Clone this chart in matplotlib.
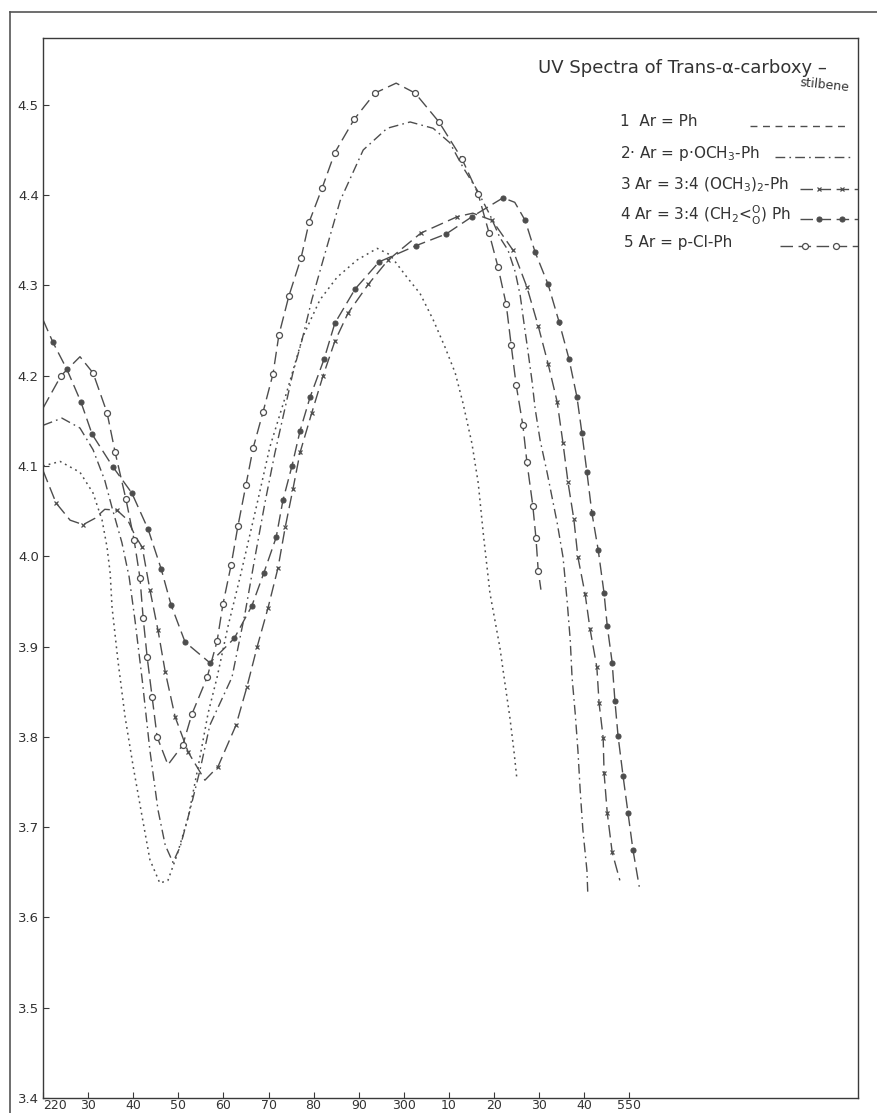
import matplotlib
matplotlib.use("Agg")
import matplotlib.pyplot as plt
from matplotlib.lines import Line2D

# ---------------- data ----------------
wl_1 = [220.0, 223.8, 228.2, 231.1, 233.1, 234.2, 234.9, 235.3, 236.6, 238.2, 240.0, 242.0,
        243.7, 245.9, 247.7, 249.7, 252.2, 254.4, 256.6, 258.6, 261.0, 263.7, 267.5, 270.3,
        273.7, 277.6, 281.4, 285.2, 289.6, 294.1, 296.9, 300.7, 303.6, 306.5, 309.1, 311.4,
        313.1, 315.1, 316.5, 317.6, 319.1, 321.3, 322.4, 323.5, 324.4, 325.1]
loge_1 = [4.100, 4.105, 4.093, 4.070, 4.040, 4.010, 3.981, 3.944, 3.885, 3.822, 3.767, 3.711,
          3.664, 3.638, 3.641, 3.669, 3.711, 3.767, 3.826, 3.866, 3.922, 3.977, 4.059, 4.121,
          4.176, 4.243, 4.284, 4.309, 4.328, 4.341, 4.334, 4.309, 4.291, 4.262, 4.232, 4.203,
          4.170, 4.125, 4.081, 4.026, 3.959, 3.899, 3.860, 3.822, 3.785, 3.752]

wl_2 = [220.0, 224.2, 228.2, 231.1, 233.7, 235.3, 237.5, 239.1, 240.4, 242.0, 243.7, 245.5,
        247.1, 248.8, 250.4, 252.6, 254.8, 257.0, 261.9, 264.8, 267.0, 269.2, 271.4, 273.7,
        275.4, 277.4, 279.6, 282.1, 285.9, 291.0, 296.3, 301.4, 306.5, 310.2, 313.1, 316.2,
        319.1, 321.3, 323.1, 324.7, 325.8, 326.7, 327.5, 328.4, 329.1, 330.2, 331.8, 334.0,
        335.3, 336.2, 336.9, 337.3, 338.0, 338.6, 339.1, 339.7, 340.6, 340.8]
loge_2 = [4.145, 4.153, 4.142, 4.118, 4.084, 4.054, 4.015, 3.977, 3.929, 3.863, 3.785, 3.719,
          3.680, 3.661, 3.678, 3.719, 3.763, 3.813, 3.866, 3.937, 3.999, 4.059, 4.114, 4.165,
          4.203, 4.239, 4.284, 4.328, 4.394, 4.450, 4.474, 4.481, 4.474, 4.458, 4.431, 4.406,
          4.378, 4.353, 4.339, 4.315, 4.289, 4.256, 4.228, 4.195, 4.164, 4.129, 4.092, 4.037,
          3.999, 3.951, 3.907, 3.866, 3.826, 3.785, 3.741, 3.697, 3.652, 3.625]

wl_3 = [220.0, 222.9, 226.0, 228.9, 231.5, 233.7, 236.4, 238.8, 240.4, 242.0, 243.7, 245.5,
        247.1, 249.3, 252.2, 255.9, 258.8, 262.8, 265.2, 267.5, 269.9, 272.1, 273.7, 275.4,
        277.0, 279.6, 282.1, 284.7, 287.6, 292.1, 296.5, 303.8, 311.8, 315.3, 319.6, 324.2,
        327.3, 329.8, 332.0, 334.0, 335.3, 336.4, 337.7, 338.6, 340.2, 341.3, 342.8, 343.3,
        344.2, 344.4, 345.1, 346.2, 347.9]
loge_3 = [4.095, 4.059, 4.040, 4.035, 4.042, 4.052, 4.051, 4.040, 4.023, 4.010, 3.963, 3.918,
          3.872, 3.822, 3.783, 3.752, 3.767, 3.813, 3.855, 3.900, 3.943, 3.987, 4.032, 4.074,
          4.115, 4.159, 4.200, 4.238, 4.269, 4.301, 4.328, 4.358, 4.376, 4.380, 4.372, 4.339,
          4.298, 4.255, 4.213, 4.171, 4.125, 4.082, 4.041, 3.999, 3.958, 3.919, 3.877, 3.837,
          3.799, 3.760, 3.716, 3.672, 3.641]

wl_4 = [220.0, 222.2, 225.3, 228.4, 230.9, 235.5, 239.7, 243.3, 246.2, 248.4, 251.5, 257.0,
        262.4, 266.3, 269.0, 271.7, 273.2, 275.2, 277.0, 279.2, 282.3, 284.7, 289.2, 294.5,
        302.7, 309.4, 315.1, 322.0, 324.6, 326.9, 329.1, 332.0, 334.4, 336.6, 338.4, 339.5,
        340.6, 341.7, 343.1, 344.4, 345.1, 346.2, 346.8, 347.5, 348.6, 349.7, 350.8, 352.2]
loge_4 = [4.262, 4.237, 4.207, 4.171, 4.135, 4.099, 4.070, 4.030, 3.986, 3.946, 3.905, 3.882,
          3.909, 3.945, 3.982, 4.021, 4.062, 4.100, 4.139, 4.176, 4.218, 4.258, 4.296, 4.326,
          4.344, 4.357, 4.376, 4.397, 4.392, 4.372, 4.337, 4.301, 4.260, 4.219, 4.176, 4.136,
          4.093, 4.048, 4.007, 3.959, 3.923, 3.882, 3.840, 3.801, 3.757, 3.716, 3.675, 3.634]

wl_5 = [220.0, 224.0, 228.2, 231.1, 234.2, 236.0, 238.4, 240.2, 241.5, 242.2, 243.1, 244.2,
        245.3, 247.7, 251.0, 253.0, 256.4, 258.6, 259.9, 261.7, 263.2, 265.0, 266.6, 268.8,
        271.0, 272.3, 274.5, 277.2, 279.0, 281.9, 284.7, 289.0, 293.6, 298.3, 302.5, 307.8,
        312.9, 316.5, 318.9, 320.9, 322.7, 323.8, 324.9, 326.4, 327.3, 328.6, 329.3, 329.8, 330.4]
loge_5 = [4.164, 4.200, 4.221, 4.203, 4.159, 4.115, 4.063, 4.018, 3.976, 3.932, 3.888, 3.844,
          3.800, 3.769, 3.791, 3.825, 3.866, 3.906, 3.947, 3.990, 4.033, 4.079, 4.120, 4.160,
          4.202, 4.245, 4.288, 4.330, 4.370, 4.408, 4.447, 4.484, 4.513, 4.524, 4.513, 4.481,
          4.440, 4.401, 4.358, 4.320, 4.279, 4.234, 4.190, 4.145, 4.104, 4.056, 4.020, 3.984, 3.963]

# indices of traced points that carry no drawn symbol (curve turning points / ends)
plain_3 = [0, 2, 4, 5, 7, 8, 15, 33, 52]
plain_4 = [0, 28, 47]
plain_5 = [0, 2, 13, 33, 48]

x_ticks = [220, 230, 240, 250, 260, 270, 280, 290, 300, 310, 320, 330, 340, 350]
x_ticklabels = ["220", "30", "40", "50", "60", "70", "80", "90", "300", "10", "20", "30", "40", "550"]
y_ticks = [3.4, 3.5, 3.6, 3.7, 3.8, 3.9, 4.0, 4.1, 4.2, 4.3, 4.4, 4.5]
y_ticklabels = ["3.4", "3.5", "3.6", "3.7", "3.8", "3.9", "4.0", "4.1", "4.2", "4.3", "4.4", "4.5"]

title_text = "UV Spectra of Trans-α-carboxy –"
title_text2 = "stilbene"
legend_labels = [
    "1  Ar = Ph",
    "2· Ar = p·OCH$_3$-Ph",
    "3 Ar = 3:4 (OCH$_3$)$_2$-Ph",
    "4 Ar = 3:4 (CH$_2$<$^{\\rm O}_{\\rm O}$) Ph",
    "5 Ar = p-Cl-Ph",
]

# ---------------- styling ----------------
INK = "#4d4d4d"
TXT = "#333333"
plt.rcParams["font.family"] = ["DejaVu Sans"]

fig = plt.figure(figsize=(8.78, 11.13), dpi=100)
fig.patch.set_facecolor("white")
ax = fig.add_axes([43 / 878, 15 / 1113, 815 / 878, 1060 / 1113])
ax.set_xlim(220, 400.7)
ax.set_ylim(3.4, 4.574)

dash_long = (0, (9, 4))
styles = {
    1: dict(ls=(0, (1.2, 2.6)), marker=None),
    2: dict(ls=(0, (7, 3, 1.2, 3)), marker=None),
    3: dict(ls=dash_long, marker="x", ms=3.3, mfc=INK, mew=0.9),
    4: dict(ls=dash_long, marker="o", ms=3.6, mfc=INK, mew=0.8),
    5: dict(ls=dash_long, marker="o", ms=4.3, mfc="white", mew=0.9),
}

def marks(n, plain):
    return [i for i in range(n) if i not in plain]

ax.plot(wl_1, loge_1, color=INK, lw=1.1, linestyle=styles[1]["ls"])
ax.plot(wl_2, loge_2, color=INK, lw=1.0, linestyle=styles[2]["ls"])
ax.plot(wl_3, loge_3, color=INK, lw=1.0, linestyle=styles[3]["ls"], marker="x",
        ms=styles[3]["ms"], mec=INK, mew=0.9, markevery=marks(len(wl_3), plain_3))
ax.plot(wl_4, loge_4, color=INK, lw=1.0, linestyle=styles[4]["ls"], marker="o",
        ms=styles[4]["ms"], mfc=INK, mec=INK, mew=0.8, markevery=marks(len(wl_4), plain_4))
ax.plot(wl_5, loge_5, color=INK, lw=1.0, linestyle=styles[5]["ls"], marker="o",
        ms=styles[5]["ms"], mfc="white", mec=INK, mew=0.9, markevery=marks(len(wl_5), plain_5))

# axes appearance
for s in ax.spines.values():
    s.set_color("#3a3a3a")
    s.set_linewidth(1.0)
ax.set_xticks(x_ticks)
ax.set_xticklabels(x_ticklabels)
ax.set_yticks(y_ticks)
ax.set_yticklabels(y_ticklabels)
ax.tick_params(axis="both", direction="in", length=4, width=0.8, colors="#3a3a3a",
               labelcolor=TXT, labelsize=9.5)
ax.tick_params(axis="x", pad=1, labelsize=9)
ax.tick_params(axis="y", pad=3)
ax.get_xticklabels()[0].set_horizontalalignment("left")

# title and hand-written style legend
ax.text(0.607, 0.9717, title_text, transform=ax.transAxes, fontsize=13, color=TXT,
        va="center", ha="left")
ax.text(0.928, 0.9557, title_text2, transform=ax.transAxes, fontsize=9, color=TXT,
        va="center", ha="left", rotation=-6)

row_y = [0.9208, 0.8915, 0.8613, 0.8330, 0.8075]
row_x0 = [0.8675, 0.898, 0.929, 0.929, 0.904]
row_x1 = [0.984, 0.993, 1.0, 1.0, 1.0]
for k, lab in enumerate(legend_labels):
    ax.text(0.708 if k < 4 else 0.713, row_y[k], lab, transform=ax.transAxes,
            fontsize=11, color=TXT, va="center", ha="left")
    st = styles[k + 1]
    y = row_y[k] - 0.004
    ln = Line2D([row_x0[k], row_x1[k]], [y, y], transform=ax.transAxes,
                color=INK, lw=1.0, linestyle=(0, (5, 4)) if k == 0 else st["ls"])
    ln.set_clip_on(False)
    ax.add_line(ln)
    if st["marker"]:
        span = row_x1[k] - row_x0[k]
        xm = [row_x0[k] + span * 0.32, row_x0[k] + span * 0.72]
        mk = Line2D(xm, [y, y], transform=ax.transAxes, linestyle="none",
                    marker=st["marker"], ms=st["ms"], mfc=st["mfc"], mec=INK, mew=st["mew"])
        mk.set_clip_on(False)
        ax.add_line(mk)

# outer page border of the scanned sheet
fig.add_artist(Line2D([10 / 878, 10 / 878], [0, 1 - 12 / 1113], transform=fig.transFigure,
                      color="#555555", lw=1.2))
fig.add_artist(Line2D([10 / 878, 1], [1 - 12 / 1113, 1 - 12 / 1113], transform=fig.transFigure,
                      color="#555555", lw=1.2))

fig.savefig("out.png", dpi=100, facecolor="white")
